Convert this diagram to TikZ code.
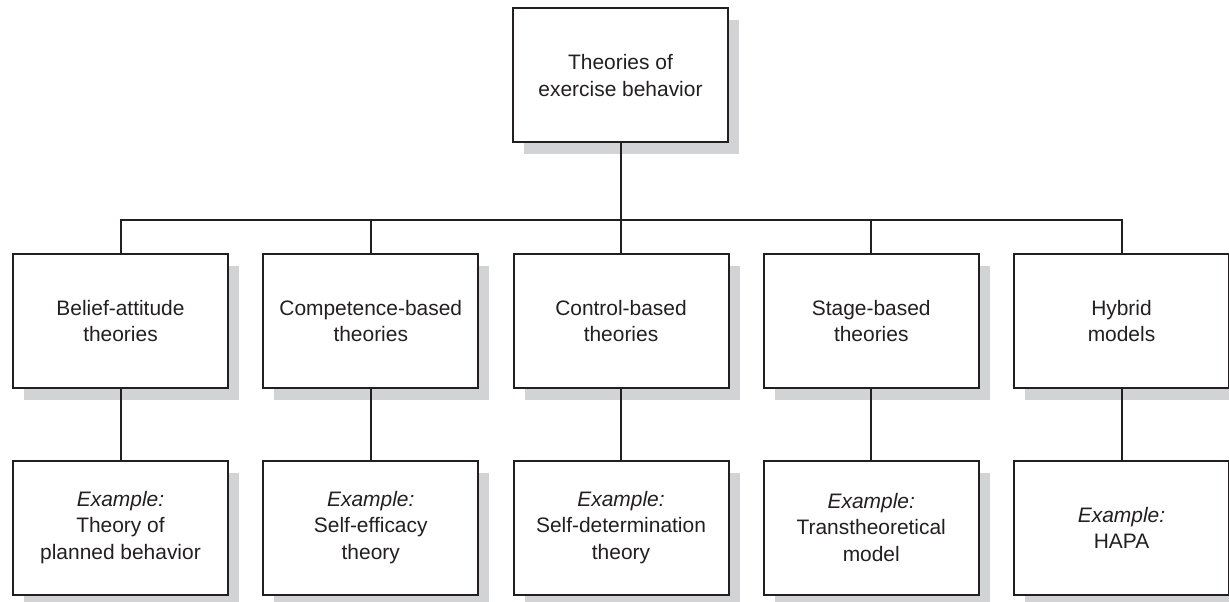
\documentclass[tikz,border=0pt]{standalone}
\usepackage{fontspec}
\setmainfont{Liberation Sans}
\usetikzlibrary{shadows}
\definecolor{ink}{HTML}{231F20}
\definecolor{shade}{HTML}{D2D3D5}
\begin{document}
\begin{tikzpicture}[x=0.75pt,y=-0.75pt,
  box/.style={draw=ink, line width=1.5pt, fill=white, text=ink,
    minimum width=161.25pt, minimum height=100.5pt, inner sep=0pt,
    align=center, font=\fontsize{15.7}{19.6}\selectfont,
    drop shadow={shadow xshift=8.25pt, shadow yshift=-9pt, fill=shade, opacity=1}},
  link/.style={draw=ink, line width=1.5pt}]
\useasboundingbox (0,0) rectangle (1229,602);

% root
\node[box] (top) at (620.5,75.5) {Theories of\\exercise behavior};

% theory families
\node[box] (b1) at (120.5,321) {Belief-attitude\\theories};
\node[box] (b2) at (370.75,321) {Competence-based\\theories};
\node[box] (b3) at (621,321) {Control-based\\theories};
\node[box] (b4) at (871.25,321) {Stage-based\\theories};
\node[box] (b5) at (1121.5,321) {Hybrid\\models};

% examples
\node[box] (e1) at (120.5,527.5) {\textit{Example:}\\Theory of\\planned behavior};
\node[box] (e2) at (370.75,527.5) {\textit{Example:}\\Self-efficacy\\theory};
\node[box] (e3) at (621,527.5) {\textit{Example:}\\Self-determination\\theory};
\node[box] (e4) at (871.25,527.5) {\textit{Example:}\\Transtheoretical\\model};
\node[box] (e5) at (1121.5,527.5) {\textit{Example:}\\HAPA};

% tree connectors
\coordinate (bus) at (0,220);
\draw[link] (top.south) -- (top.south |- bus);
\draw[link] (b1.north) -- (b1.north |- bus) -- (b5.north |- bus) -- (b5.north);
\foreach \k in {2,3,4}{
  \draw[link] (b\k.north) -- (b\k.north |- bus);
}
\foreach \k in {1,...,5}{
  \draw[link] (b\k.south) -- (e\k.north);
}
\end{tikzpicture}
\end{document}
